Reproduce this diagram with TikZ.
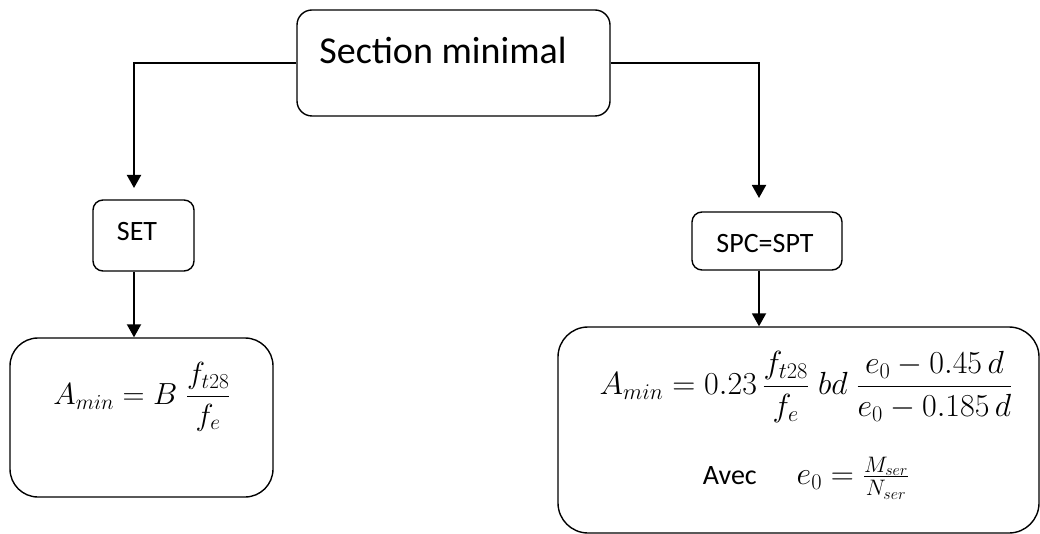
\documentclass[tikz,border=0pt]{standalone}
\usepackage{fix-cm}
\usepackage{amsmath}
\usepackage{fontspec}
\setmainfont{Carlito}
\usetikzlibrary{positioning}
\usetikzlibrary {arrows.meta}
\tikzset{minsec/.style={rectangle,draw=black,fill=white,
line width=1.4pt,inner sep=0pt,rounded corners=10pt}}
\tikzset{minsectext/.style={rectangle,draw=none,
inner sep=0pt,font=\fontsize{28}{34}\selectfont}}
\tikzset{minsecmath/.style={rectangle,draw=none,
inner sep=0pt,font=\fontsize{32}{38}\selectfont}}
\tikzset{minsecflow/.style={line width=1.9pt,-{Triangle[length=13pt,width=14pt]}}}

\begin{document}
\begin{tikzpicture}[x=1pt,y=-1pt]
        \useasboundingbox (0,0) rectangle (1040,534);

        \node[minsec,rounded corners=15pt,minimum width=313pt,minimum height=106pt] (boxTop) at (453.5,63) {};
        \node[minsectext,font=\fontsize{38}{46}\selectfont] (boxTopText) at (443,50) {Section minimal};

        \node[minsec,minimum width=101pt,minimum height=71pt] (boxSet) at (143.5,235.5) {};
        \node[minsectext] (boxSetText) at (137,232) {SET};

        \node[minsec,minimum width=150pt,minimum height=58pt] (boxSpc) at (767,241) {};
        \node[minsectext] (boxSpcText) at (765,244) {SPC=SPT};

        \node[minsec,rounded corners=28pt,minimum width=263pt,minimum height=159pt] (boxLeft) at (141.5,417.5) {};
        \node[minsecmath,font=\fontsize{30.5}{36}\selectfont] (boxLeftEq) at (142,397) {$A_{min} = B\;\dfrac{f_{t28}}{f_e}$};

        \node[minsec,rounded corners=30pt,minimum width=481pt,minimum height=206pt] (boxBig) at (798.5,430) {};
        \node[minsecmath] (boxBigEq) at (806,387) {$A_{min} = 0.23\,\dfrac{f_{t28}}{f_e}\; bd\; \dfrac{e_0 - 0.45\,d}{e_0 - 0.185\,d}$};
        \node[minsectext] (boxBigAvec) at (806,478) {Avec\hspace{40pt}{\fontsize{32}{38}\selectfont$e_0 = \frac{M_{ser}}{N_{ser}}$}};

        \coordinate (setIn) at (134,188);
        \coordinate (spcIn) at (759,198);
        \draw [minsecflow] (boxTop.west) -| (setIn);
        \draw [minsecflow] (setIn |- boxSet.south) -- (setIn |- boxLeft.north);
        \draw [minsecflow] (boxTop.east) -| (spcIn);
        \draw [minsecflow] (spcIn |- boxSpc.south) -- (spcIn |- boxBig.north);

    \end{tikzpicture}
\end{document}
